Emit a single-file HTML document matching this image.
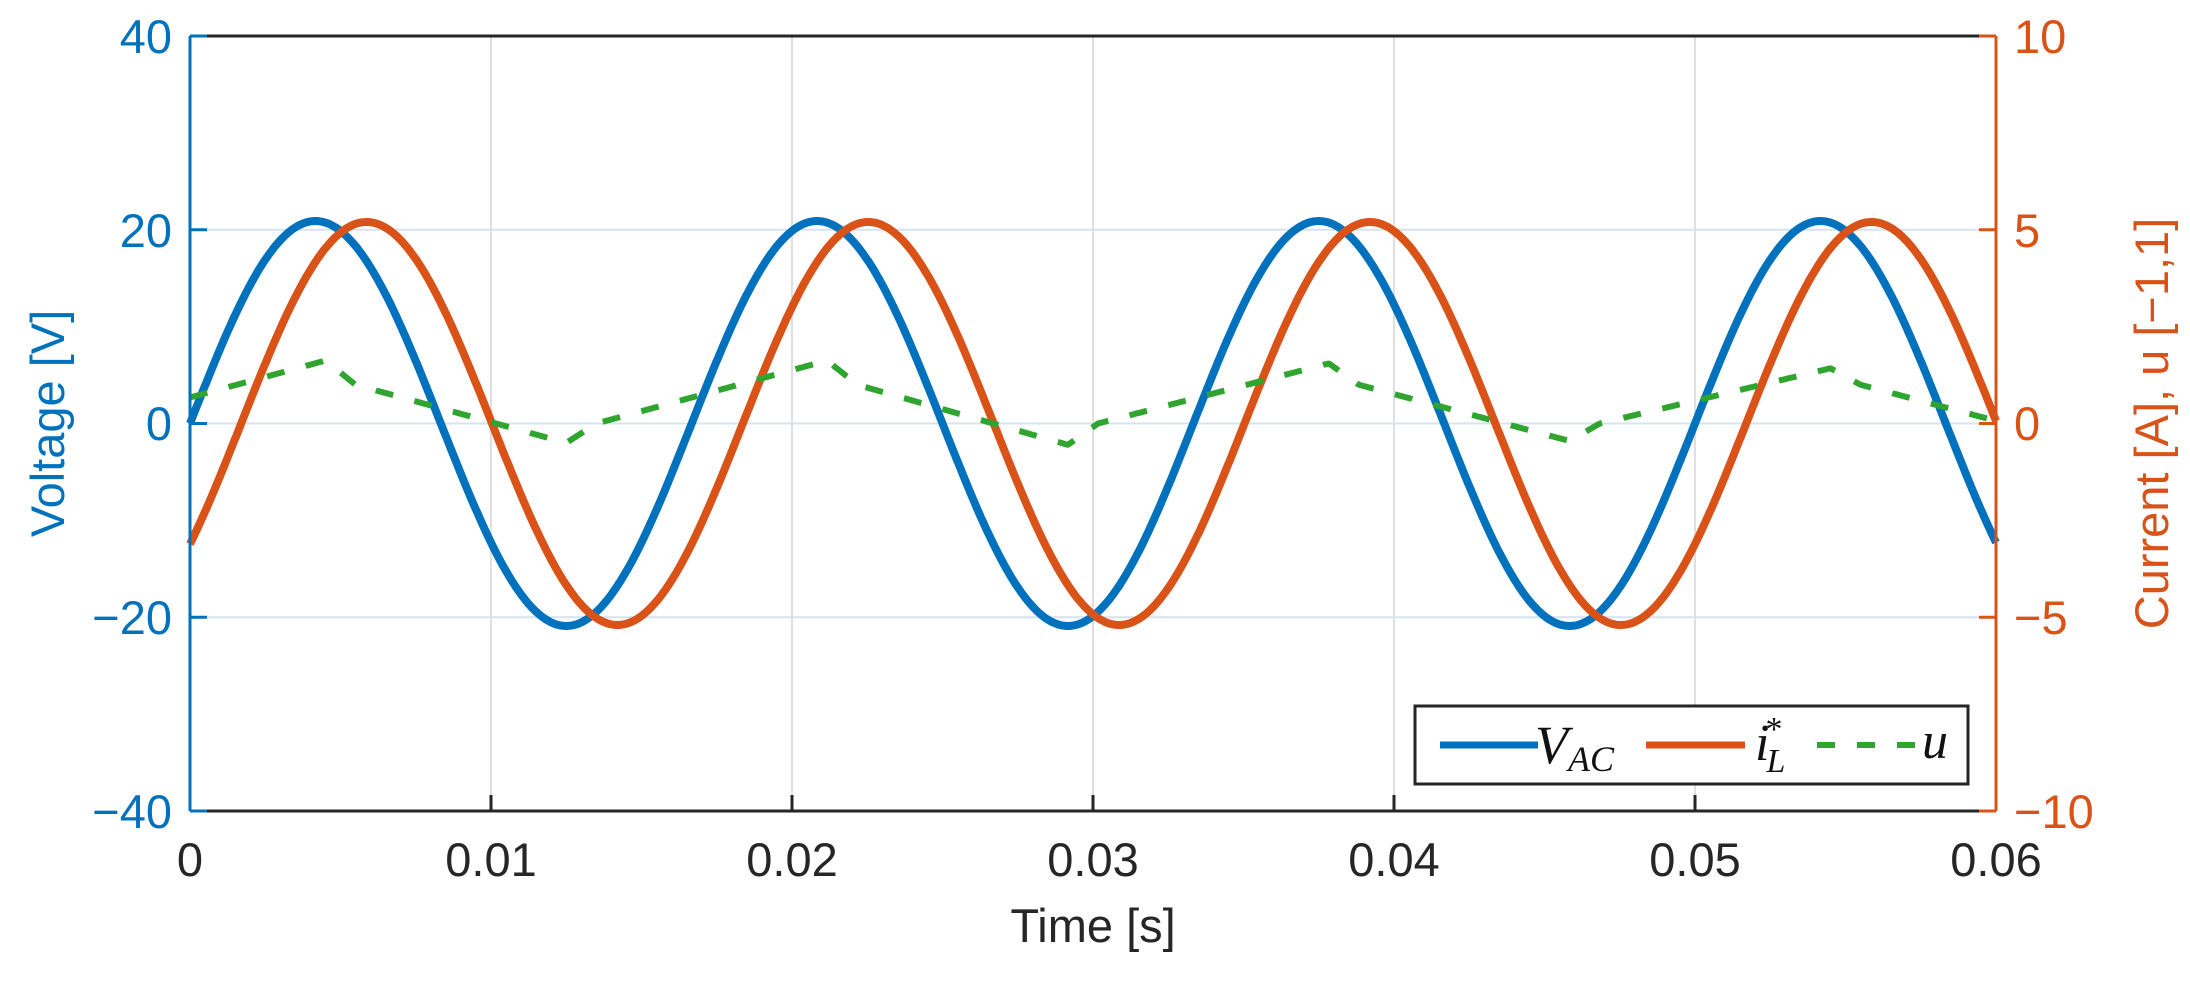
<!DOCTYPE html>
<html><head><meta charset="utf-8"><style>
html,body{margin:0;padding:0;background:#fff;}
svg{display:block;font-family:"Liberation Sans",Arial,sans-serif;}
</style></head><body>
<svg id="s" width="2190" height="982" viewBox="0 0 2190 982" xmlns="http://www.w3.org/2000/svg">
<rect width="2190" height="982" fill="#fff"/>
<g stroke="#dfdfdf" stroke-width="2">
<line x1="491" y1="36" x2="491" y2="811"/><line x1="792" y1="36" x2="792" y2="811"/><line x1="1093" y1="36" x2="1093" y2="811"/><line x1="1394" y1="36" x2="1394" y2="811"/><line x1="1695" y1="36" x2="1695" y2="811"/>
</g>
<g stroke="#d6e4f2" stroke-width="2">
<line x1="190" y1="229.75" x2="1996" y2="229.75"/><line x1="190" y1="423.5" x2="1996" y2="423.5"/><line x1="190" y1="617.25" x2="1996" y2="617.25"/>
</g>
<g id="curves" fill="none" stroke-linejoin="round"></g>
<g stroke="#262626" stroke-width="3" fill="none">
<line x1="190" y1="36" x2="1996" y2="36"/><line x1="190" y1="811" x2="1996" y2="811"/>
<line x1="491" y1="811" x2="491" y2="795"/><line x1="792" y1="811" x2="792" y2="795"/><line x1="1093" y1="811" x2="1093" y2="795"/><line x1="1394" y1="811" x2="1394" y2="795"/><line x1="1695" y1="811" x2="1695" y2="795"/>
</g>
<g stroke="#0072BD" stroke-width="3">
<line x1="190" y1="36" x2="190" y2="811"/>
<line x1="190" y1="36" x2="207" y2="36"/><line x1="190" y1="229.75" x2="207" y2="229.75"/><line x1="190" y1="423.5" x2="207" y2="423.5"/><line x1="190" y1="617.25" x2="207" y2="617.25"/><line x1="190" y1="811" x2="207" y2="811"/>
</g>
<g stroke="#D95319" stroke-width="3">
<line x1="1996" y1="36" x2="1996" y2="811"/>
<line x1="1979" y1="36" x2="1996" y2="36"/><line x1="1979" y1="229.75" x2="1996" y2="229.75"/><line x1="1979" y1="423.5" x2="1996" y2="423.5"/><line x1="1979" y1="617.25" x2="1996" y2="617.25"/><line x1="1979" y1="811" x2="1996" y2="811"/>
</g>
<g font-size="47" fill="#0072BD" text-anchor="end">
<text x="172" y="53">40</text><text x="172" y="247">20</text><text x="172" y="440">0</text><text x="172" y="634">−20</text><text x="172" y="828">−40</text>
</g>
<g font-size="47" fill="#D95319" text-anchor="start">
<text x="2014" y="53">10</text><text x="2014" y="247">5</text><text x="2014" y="440">0</text><text x="2014" y="634">−5</text><text x="2014" y="828">−10</text>
</g>
<g font-size="47" fill="#262626" text-anchor="middle">
<text x="190" y="876">0</text><text x="491" y="876">0.01</text><text x="792" y="876">0.02</text><text x="1093" y="876">0.03</text><text x="1394" y="876">0.04</text><text x="1695" y="876">0.05</text><text x="1996" y="876">0.06</text>
<text x="1093" y="942">Time [s]</text>
</g>
<text transform="translate(64,423.5) rotate(-90)" font-size="47" fill="#0072BD" text-anchor="middle">Voltage [V]</text>
<text transform="translate(2168,423.5) rotate(-90)" font-size="47" fill="#D95319" text-anchor="middle">Current [A], u [−1,1]</text>
<rect x="1415" y="706" width="553" height="78" fill="#fff" stroke="#262626" stroke-width="3"/>
<line x1="1440" y1="745" x2="1538" y2="745" stroke="#0072BD" stroke-width="7"/>
<line x1="1646" y1="745" x2="1745" y2="745" stroke="#D95319" stroke-width="7"/>
<line x1="1817" y1="745" x2="1916" y2="745" stroke="#2FA52F" stroke-width="6" stroke-dasharray="18,22"/>
<g font-family="'Liberation Serif',serif" font-style="italic" fill="#111">
<text x="1535" y="763" font-size="54">V<tspan font-size="36" dy="8">AC</tspan></text>
<text x="1755" y="760" font-size="52">i<tspan font-size="34" dx="-4" dy="-20" font-style="normal">*</tspan><tspan font-size="34" dx="-16" dy="32">L</tspan></text>
<text x="1922" y="758" font-size="52">u</text>
</g>
</svg>
<script>
(function(){
var X=function(t){return 190+t/0.06*1806;};
var Y=function(v){return 423.5-v*9.6875;};
var w=2*Math.PI*60,T=1/60,b='',o='',g='';
var peaks=[6.5,6.5,6.2,5.7],mins=[-2,-2.2,-1.8,-1.8];
function cl(k){return Math.max(0,Math.min(3,k));}
function uf(t){
 var r=t-0.0045; var k=Math.floor(r/T); var s=r-k*T;
 var pk=peaks[cl(k)], mn=mins[cl(k)], nk=peaks[cl(k+1)];
 var s2=0.008;
 if(s < 0.001) return pk-(pk-4)*s/0.001;
 if(s < s2) return 4+(mn-4)*(s-0.001)/(s2-0.001);
 if(s < s2+0.001) return mn+(0-mn)*(s-s2)/0.001;
 return (nk)*(s-s2-0.001)/(T-s2-0.001);
}
for(var i=0;i<=1500;i++){
 var t=i/1500*0.06;
 var v=20.9*Math.sin(w*t);
 var c=5.2*Math.sin(w*(t-0.0017));
 var u=uf(t);
 b+=(i?'L':'M')+X(t).toFixed(1)+' '+Y(v).toFixed(1);
 o+=(i?'L':'M')+X(t).toFixed(1)+' '+Y(c*4).toFixed(1);
 g+=(i?'L':'M')+X(t).toFixed(1)+' '+Y(u).toFixed(1);
}
var ns='http://www.w3.org/2000/svg',G=document.getElementById('curves');
function p(d,col,wd,da){var e=document.createElementNS(ns,'path');e.setAttribute('d',d);e.setAttribute('stroke',col);e.setAttribute('stroke-width',wd);if(da)e.setAttribute('stroke-dasharray',da);G.appendChild(e);}
p(b,'#0072BD',8);p(o,'#D95319',8);p(g,'#2FA52F',6,'18,22');
})();
</script>
</body></html>
